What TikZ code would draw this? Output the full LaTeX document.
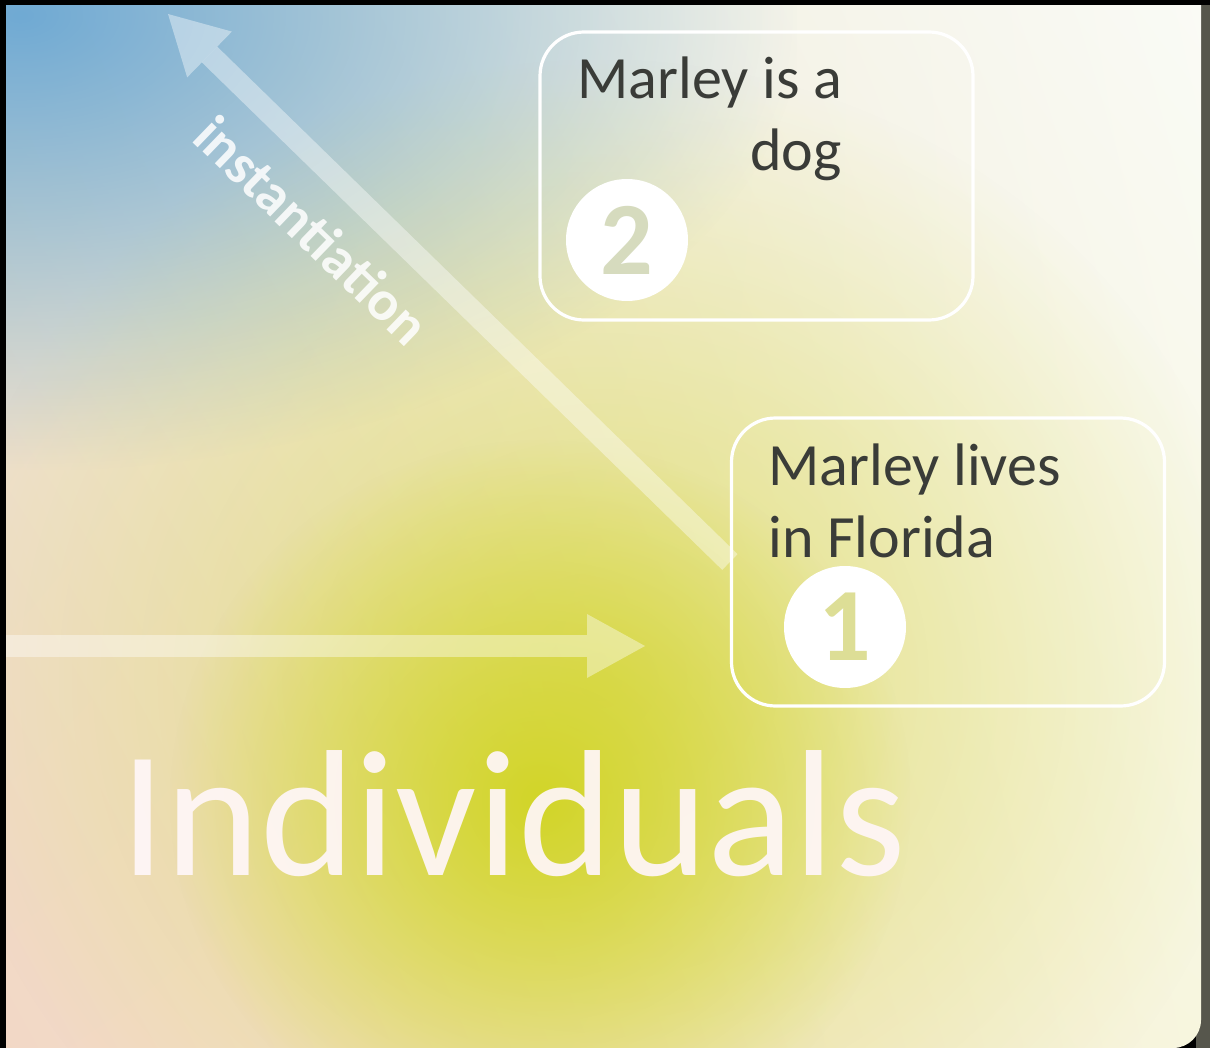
\documentclass[tikz,border=0pt]{standalone}
\usepackage{fontspec}
\setmainfont{Carlito}
\usetikzlibrary{arrows.meta,fadings,shadings,positioning}
\definecolor{skyblue}{RGB}{112,170,212}
\definecolor{paleedge}{RGB}{250,251,247}
\definecolor{sandy}{RGB}{234,230,208}
\definecolor{peach}{RGB}{242,214,196}
\definecolor{creamy}{RGB}{247,246,222}
\definecolor{limeglow}{RGB}{210,213,40}
\definecolor{inkgrey}{RGB}{58,60,56}
\definecolor{rimgrey}{RGB}{86,86,76}
\definecolor{pinkwhite}{RGB}{255,246,248}
\definecolor{digittwo}{RGB}{214,219,190}
\definecolor{digitone}{RGB}{221,222,150}
\tikzfading[name=softglow, inner color=transparent!0, outer color=transparent!100]

\begin{document}
\begin{tikzpicture}[x=0.5pt,y=-0.5pt,
  factbox/.style={draw=white, line width=1.6pt, rounded corners=22pt,
    minimum width=216.5pt, minimum height=144pt, inner sep=0pt},
  facttext/.style={text=inkgrey, inner sep=0pt, align=right,
    font=\fontsize{30}{36}\selectfont},
  numdisc/.style={circle, fill=white, inner sep=0pt, minimum size=61pt,
    font=\fontsize{52}{52}\selectfont\bfseries},
  bigarrow/.style={draw=white, opacity=0.4, line width=11pt,
    -{Triangle[width=32pt,length=29pt,line width=0pt]}}]
\useasboundingbox (0,0) rectangle (1210,1048);

% backdrop
\fill[black] (0,0) rectangle (1210,1048);
\fill[rimgrey] (1196,0) rectangle (1210,1048);
\begin{scope}
\clip[rounded corners=14pt] (-60,-60) rectangle (1201,1048);
\shade[upper left=sandy, upper right=paleedge, lower left=peach, lower right=creamy]
  (-60,-60) rectangle (1201,1048);
\fill[skyblue, path fading=softglow] (-760,-440) rectangle (800,470);
\fill[limeglow, opacity=0.55, path fading=softglow] (-60,60) rectangle (1260,1300);
\fill[limeglow, path fading=softglow] (170,440) rectangle (910,1160);
\end{scope}
\fill[black] (0,0) rectangle (1210,5);
\fill[black] (0,0) rectangle (6,1048);

% statements
\node[factbox] (dogbox) at (756.5,176) {};
\node[factbox] (floridabox) at (948,562) {};
\node[facttext, anchor=north west] (dogtext) at (577,56) {Marley is a\\dog};
\node[facttext, align=left, anchor=north west] (floridatext) at (768,443) {Marley lives\\in Florida};
\node[numdisc, text=digittwo] (numtwo) at (627,240) {2};
\node[numdisc, text=digitone] (numone) at (845,627) {1};

% arrows
\coordinate (insttip) at (168,14);
\coordinate (leftedge) at (6,646);
\coordinate (midtip) at (645,646);
\draw[bigarrow] (floridabox.west) -- (insttip);
\draw[bigarrow] (leftedge) -- (midtip);
\node[rotate=-44, text=white, opacity=0.85, font=\fontsize{28.5}{28.5}\selectfont\bfseries] (instlabel) at (312,230) {instantiation};

% level title
\node[anchor=base west, inner sep=0pt, text=pinkwhite, opacity=0.93,
  font=\fontsize{90}{90}\selectfont] (leveltitle) at (120,875) {Individuals};
\end{tikzpicture}
\end{document}
